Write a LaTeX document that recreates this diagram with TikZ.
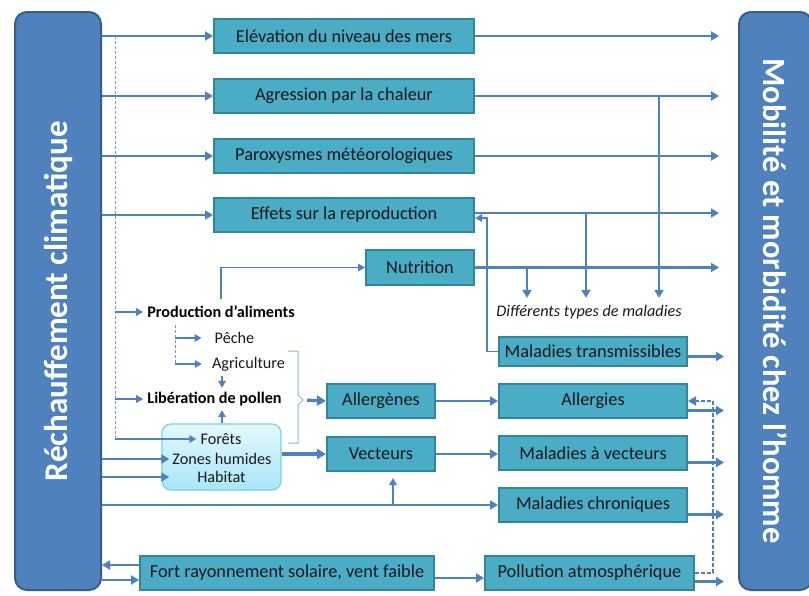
\documentclass[tikz,border=0pt]{standalone}
\usepackage{fontspec}
\setmainfont{Carlito}
\usetikzlibrary{arrows.meta,calc}
\definecolor{lineblue}{HTML}{4F81BD}
\definecolor{bigfill}{HTML}{4F81BD}
\definecolor{bigdraw}{HTML}{385D8A}
\definecolor{tealfill}{HTML}{4BACC6}
\definecolor{tealdraw}{HTML}{31859C}
\definecolor{bracecol}{HTML}{8EB4E3}
\definecolor{forfillA}{HTML}{E3F8FE}
\definecolor{forfillB}{HTML}{A8E6F7}
\definecolor{fordraw}{HTML}{7DCFE6}
\begin{document}
\begin{tikzpicture}[x=1pt,y=-1pt,
  bigbox/.style={draw=bigdraw,fill=bigfill,line width=2pt,rounded corners=12pt,inner sep=0pt},
  bigtext/.style={text=white,inner sep=0pt},
  tbox/.style={draw=tealdraw,fill=tealfill,line width=2pt,inner sep=0pt,minimum height=34pt,font=\fontsize{18.3}{21}\selectfont,text=black!90},
  arr/.style={draw=lineblue,line width=2.4pt,-{Triangle[length=8pt,width=9pt]}},
  arrt/.style={draw=lineblue,line width=1.6pt,-{Triangle[length=7pt,width=7.5pt]}},
  arrk/.style={draw=lineblue,line width=3.2pt,-{Triangle[length=9pt,width=10pt]}},
  dln/.style={draw=lineblue!80,line width=1pt,dash pattern=on 3pt off 2pt},
  darr/.style={draw=lineblue,line width=2.2pt,dash pattern=on 4pt off 2pt,-{Triangle[length=8pt,width=9pt]}},
  lbl/.style={inner sep=0pt,font=\fontsize{16.2}{19}\selectfont,text=black!90},
  blbl/.style={inner sep=0pt,font=\fontsize{16.2}{19}\selectfont\bfseries,text=black},
]
\useasboundingbox (0,0) rectangle (809,595);
\fill[white] (0,0) rectangle (809,595);

% big side boxes
\node[bigbox,minimum width=86pt,minimum height=578pt] (R) at (58,301) {};
\node[bigtext,rotate=90,font=\fontsize{33}{38}\selectfont\bfseries] (Rtxt) at (R.center) {Réchauffement climatique};
\node[bigbox,minimum width=73pt,minimum height=578pt] (M) at (775.5,301) {};
\node[bigtext,rotate=-90,font=\fontsize{32.5}{38}\selectfont\bfseries] (Mtxt) at (M.center) {Mobilité et morbidité chez l’homme};

% teal boxes
\node[tbox,minimum width=260pt] (elev) at (344,36) {Elévation du niveau des mers};
\node[tbox,minimum width=260pt] (agr) at (344,96) {Agression par la chaleur};
\node[tbox,minimum width=260pt] (parox) at (344,156) {Paroxysmes météorologiques};
\node[tbox,minimum width=260pt] (eff) at (344,215) {Effets sur la reproduction};
\node[tbox,minimum width=108pt,minimum height=35pt] (nutr) at (420,267.5) {Nutrition};
\node[tbox,minimum width=108pt] (allgn) at (381,401) {Allergènes};
\node[tbox,minimum width=108pt] (vect) at (381,454) {Vecteurs};
\node[tbox,minimum width=188pt,minimum height=29pt] (maltr) at (593,351.5) {Maladies transmissibles};
\node[tbox,minimum width=188pt] (allgs) at (593,401) {Allergies};
\node[tbox,minimum width=188pt] (malvec) at (593,453) {Maladies à vecteurs};
\node[tbox,minimum width=188pt] (malchr) at (593,505) {Maladies chroniques};
\node[tbox,minimum width=294pt] (fort) at (287,573) {Fort rayonnement solaire, vent faible};
\node[tbox,minimum width=209pt] (poll) at (589.5,573) {Pollution atmosphérique};

% forests box
\node[draw=fordraw,line width=1.2pt,rounded corners=9pt,top color=forfillA,bottom color=forfillB,minimum width=119pt,minimum height=66pt] (fbox) at (221.5,457) {};
\node[lbl] (forets) at (221,439) {Forêts};
\node[lbl] (zones) at (222,459) {Zones humides};
\node[lbl] (habitat) at (221.5,477) {Habitat};

% labels
\node[blbl] (prod) at (221,312) {Production d’aliments};
\node[lbl] (peche) at (234.5,338) {Pêche};
\node[lbl] (agri) at (248.5,364) {Agriculture};
\node[blbl] (lib) at (214.5,399) {Libération de pollen};
\node[lbl,font=\fontsize{16.2}{19}\selectfont\itshape] (diff) at (589,312) {Différents types de maladies};

% helper coordinates
\coordinate (dv) at (115,0);
\coordinate (pv) at (175,325);
\coordinate (va) at (222,0);
\coordinate (vv) at (393,0);
\coordinate (vA) at (659,0);
\coordinate (vB) at (586,0);
\coordinate (vC) at (527,0);
\coordinate (vD) at (487,0);
\coordinate (vE) at (713,0);
\coordinate (br) at (303,400);

% left to top boxes
\foreach \n in {elev,agr,parox,eff} \draw[arr] (R.east |- \n.west) -- (\n.west);

% top boxes to right
\foreach \n in {elev,agr,parox} \draw[arr,shorten >=19pt] (\n.east) -- (\n.east -| M.west);
\draw[arr,shorten >=19pt] ([yshift=2pt]eff.east) -- ([yshift=2pt]eff.east -| M.west);
\draw[arr,shorten >=19pt] (nutr.east) -- (nutr.east -| M.west);

% to "different types"
\draw[arr,shorten >=7pt] (agr.east -| vA) -- (vA |- diff.north);
\draw[arr,shorten >=7pt] ([yshift=2pt]eff.east -| vB) -- (vB |- diff.north);
\draw[arr,shorten >=7pt] (nutr.east -| vC) -- (vC |- diff.north);
\draw[arrt] (maltr.west) -- (maltr.west -| vD) -- ([yshift=-3pt]eff.east -| vD) -- ([yshift=-3pt]eff.east);

% lower boxes to right
\draw[arr,shorten >=14pt] ([yshift=-5pt]maltr.east) -- ([yshift=-5pt]maltr.east -| M.west);
\foreach \n in {allgs,malvec,malchr} \draw[arr,shorten >=14pt] ([yshift=-9.5pt]\n.east) -- ([yshift=-9.5pt]\n.east -| M.west);
\draw[arr,shorten >=14pt] ([yshift=-8.5pt]poll.east) -- ([yshift=-8.5pt]poll.east -| M.west);
\draw[darr] (poll.east) -- (poll.east -| vE) -- (allgs.east -| vE) -- (allgs.east);

% dashed feeder line
\draw[dln] (elev.west -| dv) -- (dv |- forets.west);
\draw[arrt,shorten >=4pt] (dv |- prod.west) -- (prod.west);
\draw[arrt,shorten >=4pt] (dv |- lib.west) -- (lib.west);
\draw[arrt,shorten >=4pt] (dv |- forets.west) -- (forets.west);

% production
\draw[arrt,shorten <=7pt] (prod.north) |- (nutr.west);
\draw[dln] (pv) -- (pv |- agri.west);
\draw[arrt,shorten >=13pt] (pv |- peche.west) -- (peche.west);
\draw[arrt,shorten >=10pt] (pv |- agri.west) -- (agri.west);
\draw[arrt,shorten <=5pt,shorten >=4pt] (va |- agri.south) -- (va |- lib.north);
\draw[arrt,shorten >=4pt] (va |- fbox.north) -- (va |- lib.south);

% forests inputs
\draw[arr,shorten >=3pt] (R.east |- zones.west) -- (zones.west);
\draw[arr,shorten >=3pt] (R.east |- habitat.west) -- (zones.west |- habitat.west);

% bracket
\draw[bracecol,line width=1pt] (288,351) -- (298,351) -- (298,395) -- (br) -- (298,405) -- (298,443) -- (288,443);
\draw[arrk,shorten <=4pt] (br) -- (allgn.west);
\draw[arrk] (fbox.east |- vect.west) -- (vect.west);

% middle
\draw[arr] (allgn.east) -- (allgs.west);
\draw[arr] (vect.east) -- (vect.east -| malvec.west);
\draw[arr] (R.east |- malchr.west) -- (malchr.west);
\draw[arrt,shorten >=6pt] (vv |- malchr.west) -- (vv |- vect.south);

% bottom
\draw[arr] ([yshift=8pt]fort.west) -- ([yshift=8pt]fort.west -| R.east);
\draw[arr] ([yshift=-7pt]fort.west -| R.east) -- ([yshift=-7pt]fort.west);
\draw[arr] ([yshift=-5pt]fort.east) -- ([yshift=-5pt]fort.east -| poll.west);
\end{tikzpicture}
\end{document}
